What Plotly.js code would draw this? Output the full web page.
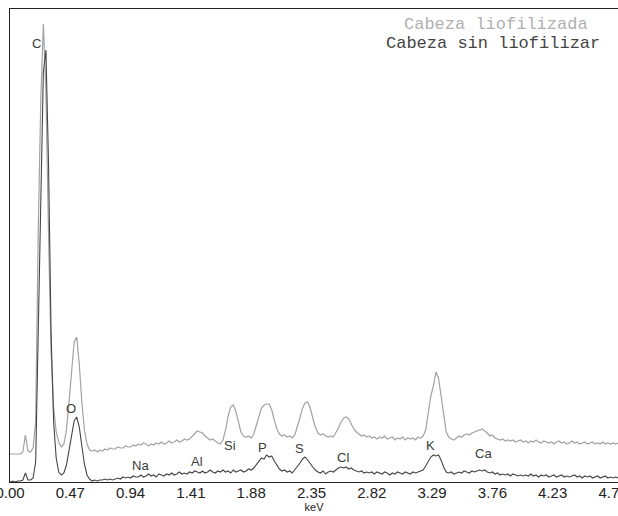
<!DOCTYPE html>
<html>
<head>
<meta charset="utf-8">
<script src="https://cdn.plot.ly/plotly-3.0.1.min.js"></script>
<style>
  html, body { margin: 0; padding: 0; background: #fff; }
  #chart { width: 618px; height: 516px; }
</style>
</head>
<body>
<div id="chart"></div>
<script>
// Channel calibration of the spectrum (keV)
const channelStartKeV = 0;
const channelWidthKeV = 0.02;

// Tick positions and labels (keV)
const tickValues = [0, 0.47, 0.94, 1.41, 1.88, 2.35, 2.82, 3.29, 3.76, 4.23, 4.70];
const tickLabels = ["0.00", "0.47", "0.94", "1.41", "1.88", "2.35", "2.82", "3.29", "3.76", "4.23", "4.70"];

// Series names
const seriesNames = ["Cabeza liofilizada", "Cabeza sin liofilizar"];

// Counts per channel: Cabeza liofilizada (light curve)
const countsLiofilizada = [
  28,28,28,28,28,30,47,31,30,34,
  60,250,382,458,390,250,130,75,50,40,
  35,38,52,80,115,140,145,118,80,52,
  38,32,31,32,30,32,31,33,32,34,
  33,33,35,34,34,36,35,35,37,36,
  38,37,39,38,36,38,37,39,38,40,
  38,39,41,39,40,42,40,41,43,42,
  43,46,48,51,50,49,46,44,42,43,
  41,39,38,42,52,66,75,77,71,60,
  50,46,45,46,44,48,56,66,74,77,
  78,78,72,62,53,48,46,47,45,46,
  44,47,55,64,74,79,80,74,64,55,
  49,47,48,46,45,46,45,49,54,60,
  64,65,63,58,53,50,48,46,47,45,
  46,44,45,43,45,44,46,43,44,45,
  42,44,43,45,42,44,43,44,42,45,
  44,46,52,68,86,96,110,104,86,64,
  50,45,43,42,44,46,45,47,48,47,
  49,50,51,52,53,51,49,46,47,44,
  43,42,43,41,42,41,42,40,41,42,
  40,41,39,41,40,42,40,39,41,40,
  39,40,38,40,41,39,40,38,39,41,
  39,40,38,39,40,38,39,40,38,39,
  38,40,38,39,38,39,38,39
];

// Counts per channel: Cabeza sin liofilizar (dark curve)
const countsSinLiofilizar = [
  0,1,0,1,1,2,9,2,2,4,
  20,150,290,410,432,320,150,60,24,10,
  7,9,17,32,48,61,65,55,36,18,
  7,3,1,2,1,2,2,3,2,3,
  2,3,4,3,5,4,5,4,6,5,
  5,7,5,6,8,6,7,5,8,7,
  6,8,7,9,7,8,10,8,9,8,
  10,9,11,10,9,11,9,10,12,10,
  9,11,10,12,10,11,9,12,10,11,
  12,10,11,13,12,14,17,21,24,23,
  27,25,26,21,17,13,11,12,10,11,
  9,12,15,19,23,25,22,18,15,12,
  10,9,11,8,10,11,10,12,14,15,
  14,15,13,14,12,11,10,11,9,10,
  9,10,8,10,9,8,10,9,7,9,
  8,10,9,8,10,9,8,10,9,10,
  11,12,16,20,25,27,26,27,22,15,
  10,9,10,8,9,10,9,11,10,9,
  11,10,11,12,11,12,10,9,10,8,
  9,7,8,7,8,6,8,7,6,7,
  6,7,6,8,6,7,5,7,6,7,
  5,6,7,5,6,7,5,6,5,6,
  7,5,6,4,6,5,6,4,5,6,
  4,5,6,4,5,4,5,4
];

// Element labels and where they sit (keV, counts)
const elementLabels = ["C", "O", "Na", "Al", "Si", "P", "S", "Cl", "K", "Ca"];
const elementLabelKeV = [0.21, 0.475, 1.02, 1.46, 1.715, 1.97, 2.26, 2.595, 3.28, 3.687];
const elementLabelCounts = [439, 74, 17, 21, 37, 35, 34, 25, 37, 29];

const lightColor = "#a2a2a2";
const darkColor = "#454545";

const traces = [
  {
    type: "scatter", mode: "lines", name: seriesNames[0],
    x0: channelStartKeV, dx: channelWidthKeV, y: countsLiofilizada,
    line: { color: lightColor, width: 1.2 }, showlegend: false
  },
  {
    type: "scatter", mode: "lines", name: seriesNames[1],
    x0: channelStartKeV, dx: channelWidthKeV, y: countsSinLiofilizar,
    line: { color: darkColor, width: 1.1 }, showlegend: false
  }
];

const annotations = elementLabels.map((t, i) => ({
  text: t, x: elementLabelKeV[i], y: elementLabelCounts[i],
  xref: "x", yref: "y", showarrow: false,
  xanchor: "center", yanchor: "middle",
  font: { family: "Liberation Sans, Arial, sans-serif", size: 13, color: "#3a3a3a" }
}));

annotations.push({
  text: seriesNames[0], xref: "paper", yref: "paper",
  x: (496 - 10) / 608, y: 1 - (24 - 9) / 473, xanchor: "center", yanchor: "middle",
  showarrow: false,
  font: { family: "Liberation Mono, Courier New, monospace", size: 17, color: "#b0b0b0" }
});
annotations.push({
  text: seriesNames[1], xref: "paper", yref: "paper",
  x: (493 - 10) / 608, y: 1 - (43 - 9) / 473, xanchor: "center", yanchor: "middle",
  showarrow: false,
  font: { family: "Liberation Mono, Courier New, monospace", size: 17, color: "#444444" }
});

const layout = {
  width: 618, height: 516,
  margin: { l: 10, r: 0, t: 9, b: 34, pad: 0 },
  paper_bgcolor: "#ffffff", plot_bgcolor: "#ffffff",
  showlegend: false,
  xaxis: {
    range: [0, 4.739],
    tickvals: tickValues, ticktext: tickLabels,
    ticks: "", showgrid: false, zeroline: false,
    ticklabeloverflow: "allow", ticklabelstandoff: -3,
    showline: true, mirror: true, linecolor: "#222222", linewidth: 1,
    tickfont: { family: "Liberation Sans Narrow, Arial Narrow, Liberation Sans, sans-serif", size: 15, color: "#222222" },
    title: { text: "keV", font: { family: "Liberation Sans, Arial, sans-serif", size: 11, color: "#222222" }, standoff: 0 }
  },
  yaxis: {
    range: [0, 473],
    showticklabels: false, ticks: "", showgrid: false, zeroline: false,
    showline: true, mirror: false, linecolor: "#222222", linewidth: 1
  },
  annotations: annotations
};

Plotly.newPlot("chart", traces, layout, { displayModeBar: false, staticPlot: true });
</script>
</body>
</html>
